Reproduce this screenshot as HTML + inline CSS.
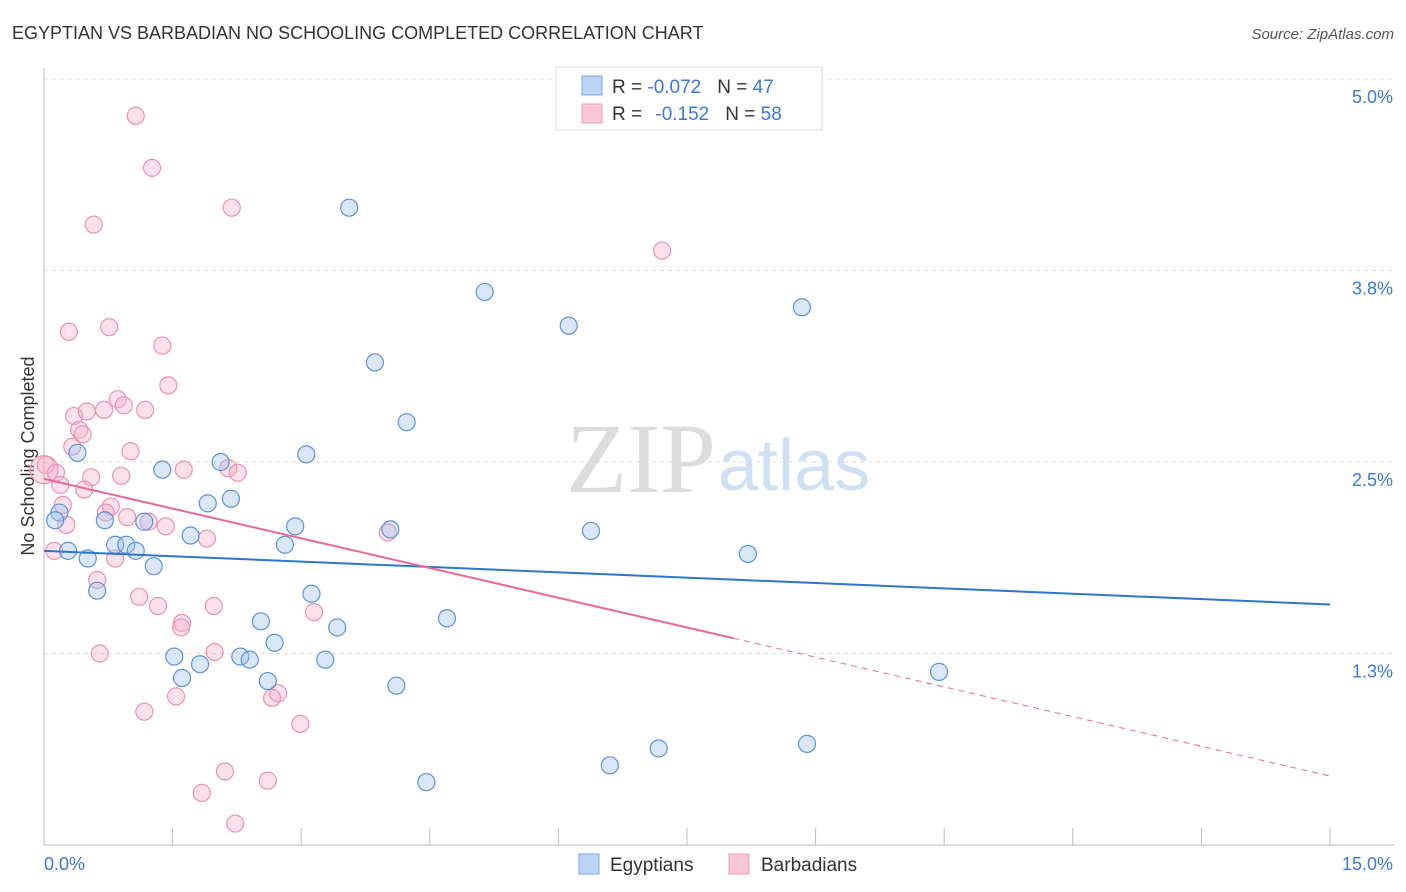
<!DOCTYPE html>
<html><head><meta charset="utf-8"><style>
body{margin:0;background:#fff;font-family:"Liberation Sans",sans-serif;}
#wrap{position:relative;width:1406px;height:892px;overflow:hidden;}
</style></head><body>
<div id="wrap">
<svg id="chart" width="1406" height="892" xmlns="http://www.w3.org/2000/svg">
<text x="12" y="39" font-size="18" fill="#333">EGYPTIAN VS BARBADIAN NO SCHOOLING COMPLETED CORRELATION CHART</text>
<text x="1394" y="39" font-size="15" fill="#555" font-style="italic" text-anchor="end">Source: ZipAtlas.com</text>
<text x="34" y="456" font-size="18" fill="#333" text-anchor="middle" transform="rotate(-90 34 456)">No Schooling Completed</text>
<g id="grid"></g>
<g id="axes"></g>
<text x="716" y="492" font-size="100" fill="#dcdcdc" text-anchor="end" font-family="Liberation Serif,serif">ZIP</text>
<text x="718" y="490" font-size="72" fill="#cfe0f3">atlas</text>
<g id="pts"></g>
<g id="lines"></g>
<g>
<rect x="556" y="67" width="266" height="63" fill="#fff" stroke="#ddd"/>
<rect x="582" y="76" width="20" height="19" fill="#bcd5f5" stroke="#7aa7e3"/>
<rect x="582" y="104" width="20" height="19" fill="#f9c8d6" stroke="#ee9bb6"/>
<text x="612" y="93" font-size="19" fill="#333">R = <tspan fill="#3b78d8">-0.072</tspan><tspan dx="16">N = </tspan><tspan fill="#3b78d8">47</tspan></text>
<text x="612" y="120" font-size="19" fill="#333">R = <tspan dx="8" fill="#3b78d8">-0.152</tspan><tspan dx="16">N = </tspan><tspan fill="#3b78d8">58</tspan></text>
</g>
<g>
<rect x="579" y="854" width="20" height="20" fill="#bcd5f5" stroke="#7aa7e3"/>
<text x="610" y="871" font-size="19" fill="#333">Egyptians</text>
<rect x="729" y="854" width="20" height="20" fill="#f9c8d6" stroke="#ee9bb6"/>
<text x="761" y="871" font-size="19" fill="#333">Barbadians</text>
</g>
</svg>
</div>
<script>
const egyX=[3.56,5.14,6.12,8.84,3.86,4.23,0.39,1.38,2.06,3.06,1.91,2.18,0.18,0.13,0.71,1.17,2.93,4.04,6.38,1.71,2.81,0.83,0.96,1.07,0.28,0.51,1.28,8.21,0.62,3.12,2.53,3.42,4.7,2.69,1.52,1.82,2.29,2.4,3.28,1.61,2.61,4.11,10.44,7.17,8.9,6.6,4.46];
const egyY=[4.16,3.61,3.39,3.51,3.15,2.76,2.56,2.45,2.5,2.55,2.23,2.26,2.17,2.12,2.12,2.11,2.08,2.06,2.05,2.02,1.96,1.96,1.96,1.92,1.92,1.87,1.82,1.9,1.66,1.64,1.46,1.42,1.48,1.32,1.23,1.18,1.23,1.21,1.21,1.09,1.07,1.04,1.13,0.63,0.66,0.52,0.41];
const barX=[1.07,1.26,2.19,0.58,7.21,0.29,0.76,1.38,1.45,0.86,0.93,0.35,0.5,0.7,1.18,0.41,0.45,0.33,1.01,0.02,0.14,1.63,2.15,2.26,0.55,0.9,0.19,0.47,0.22,0.78,0.72,0.97,0.26,1.22,1.42,1.9,4.01,0.12,0.83,0.62,1.11,1.33,1.98,1.61,1.6,3.15,0.65,1.99,1.54,2.73,2.66,1.17,2.99,2.11,2.61,1.84,2.23,0.0];
const barY=[4.76,4.42,4.16,4.05,3.88,3.35,3.38,3.26,3.0,2.91,2.87,2.8,2.83,2.84,2.84,2.71,2.68,2.6,2.57,2.48,2.43,2.45,2.46,2.43,2.4,2.41,2.35,2.32,2.22,2.21,2.17,2.14,2.09,2.11,2.08,2.0,2.04,1.92,1.87,1.73,1.62,1.56,1.56,1.45,1.42,1.52,1.25,1.26,0.97,0.99,0.96,0.87,0.79,0.48,0.42,0.34,0.14,2.45];
const xTicks=[0,1.5,3,4.5,6,7.5,9,10.5,12,13.5,15];
const yTicks=[1.25,2.5,3.75,5.0];
const yTickLabels=["1.3%","2.5%","3.8%","5.0%"];
const egyTrend=[1.92,1.57];
const barTrend=[2.39,1.35,0.45];
const NS="http://www.w3.org/2000/svg";
const X=v=>44+v*(1286/15), Y=v=>845-v*153.2;
function mk(t,a,p){const e=document.createElementNS(NS,t);for(const k in a)e.setAttribute(k,a[k]);p.appendChild(e);return e;}
const grid=document.getElementById('grid'),axes=document.getElementById('axes');
yTicks.forEach((t,i)=>{
 const l=mk('line',{x1:44,x2:1394,y1:Y(t),y2:Y(t),stroke:'#ddd','stroke-dasharray':'4,4'},grid);
 
 
 const tx=mk('text',{x:1393,y:Y(t)+24,'font-size':18,fill:'#3b78d8','text-anchor':'end'},axes);
 tx.textContent=yTickLabels[i];
 
 
});
const ax=mk('line',{x1:44,x2:1394,y1:845,y2:845,stroke:'#bbb'},axes);


const ay=mk('line',{x1:44,x2:44,y1:68,y2:845,stroke:'#bbb'},axes);


xTicks.forEach(t=>{
 const l=mk('line',{x1:X(t),x2:X(t),y1:828,y2:845,stroke:'#bbb'},axes);
 
 
});
const t0=mk('text',{x:44,y:870,'font-size':18,fill:'#3b78d8'},axes);t0.textContent='0.0%';


const t1=mk('text',{x:1393,y:870,'font-size':18,fill:'#3b78d8','text-anchor':'end'},axes);t1.textContent='15.0%';


const pts=document.getElementById('pts');
barX.forEach((v,i)=>{
 const c=mk('circle',{cx:X(v),cy:Y(barY[i]),r:i===barX.length-1?14:8.5,fill:'rgba(245,170,195,0.35)',stroke:'#ec92b0','stroke-width':1.2},pts);
 
 
});
egyX.forEach((v,i)=>{
 const c=mk('circle',{cx:X(v),cy:Y(egyY[i]),r:8.5,fill:'rgba(160,195,240,0.4)',stroke:'#5b93dc','stroke-width':1.2},pts);
 
 
});
const lines=document.getElementById('lines');
const le=mk('line',{x1:X(0),y1:Y(egyTrend[0]),x2:X(15),y2:Y(egyTrend[1]),stroke:'#2f74d0','stroke-width':2},lines);


const lb=mk('line',{x1:X(0),y1:Y(barTrend[0]),x2:X(8.04),y2:Y(barTrend[1]),stroke:'#e8689a','stroke-width':2},lines);


const lbd=mk('line',{x1:X(8.04),y1:Y(barTrend[1]),x2:X(15),y2:Y(barTrend[2]),stroke:'#e8689a','stroke-width':1,'stroke-dasharray':'6,5'},lines);


</script>
</body></html>
